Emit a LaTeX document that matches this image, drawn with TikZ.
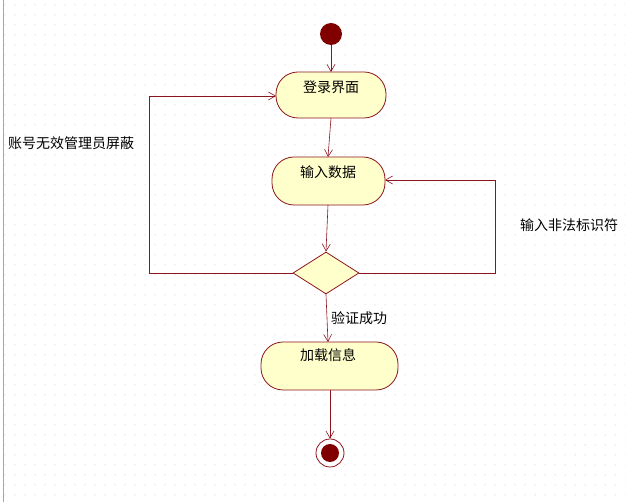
\documentclass[tikz,border=0pt]{standalone}
\usepackage{fontspec}
\setmainfont{Noto Sans CJK SC}
\usetikzlibrary{shapes.geometric,arrows.meta}
\definecolor{ln}{RGB}{140,20,30}
\definecolor{fl}{RGB}{255,255,204}
\definecolor{dk}{RGB}{128,0,0}
\begin{document}
\begin{tikzpicture}[x=1pt,y=-1pt,
  act/.style={draw=ln,fill=fl,rounded corners=22pt,thick},
  lab/.style={font=\fontsize{14}{16}\selectfont,inner sep=0pt},
  arr/.style={draw=ln,semithick,-{Straight Barb[length=7pt,width=8pt]}}]
\fill[white] (0,0) rectangle (625,502);
\useasboundingbox (0,0) rectangle (625,502);
\foreach \i in {0,...,62}{\foreach \j in {0,...,50}{\fill[gray!55] (\i*10+5,\j*10+5) circle (0.5);}}
\draw[gray!70] (3,0) -- (3,502);
\node[circle,fill=dk,minimum size=22pt,inner sep=0pt] (s) at (331,34) {};
\draw[act] (276,72) rectangle (386,118);
\node[lab] (ta) at (331,87) {登录界面};
\draw[act] (272,157) rectangle (385,205);
\node[lab] (tb) at (328,172) {输入数据};
\node[diamond,draw=ln,fill=fl,thick,minimum width=66pt,minimum height=42pt,inner sep=0pt] (d) at (326,273) {};
\draw[act] (261,342) rectangle (398,390);
\node[lab] (tc) at (328,355) {加载信息};
\node[circle,draw=ln,fill=white,thick,minimum size=28pt,inner sep=0pt] (e) at (330,453) {};
\node[circle,fill=dk,minimum size=18pt,inner sep=0pt] at (330,453) {};
\coordinate (a1) at (331,72); \coordinate (a2) at (331,118);
\coordinate (b1) at (328,157); \coordinate (b2) at (328,205);
\coordinate (c1) at (328,342); \coordinate (c2) at (330,390);
\coordinate (al) at (276,96); \coordinate (br) at (385,180);
\draw[arr] (s) -- (a1);
\draw[arr] (a2) -- (b1);
\draw[arr] (b2) -- (d.north);
\draw[arr] (d.south) -- (c1);
\draw[arr] (c2) -- (e.north);
\draw[arr] (d.west) -- (149,273) -- (149,96) -- (al);
\draw[arr] (d.east) -- (495,273) -- (495,180) -- (br);
\node[lab,anchor=west] at (8,143) {账号无效管理员屏蔽};
\node[lab,anchor=west] at (520,225) {输入非法标识符};
\node[lab,anchor=west] at (331,318) {验证成功};
\end{tikzpicture}
\end{document}
